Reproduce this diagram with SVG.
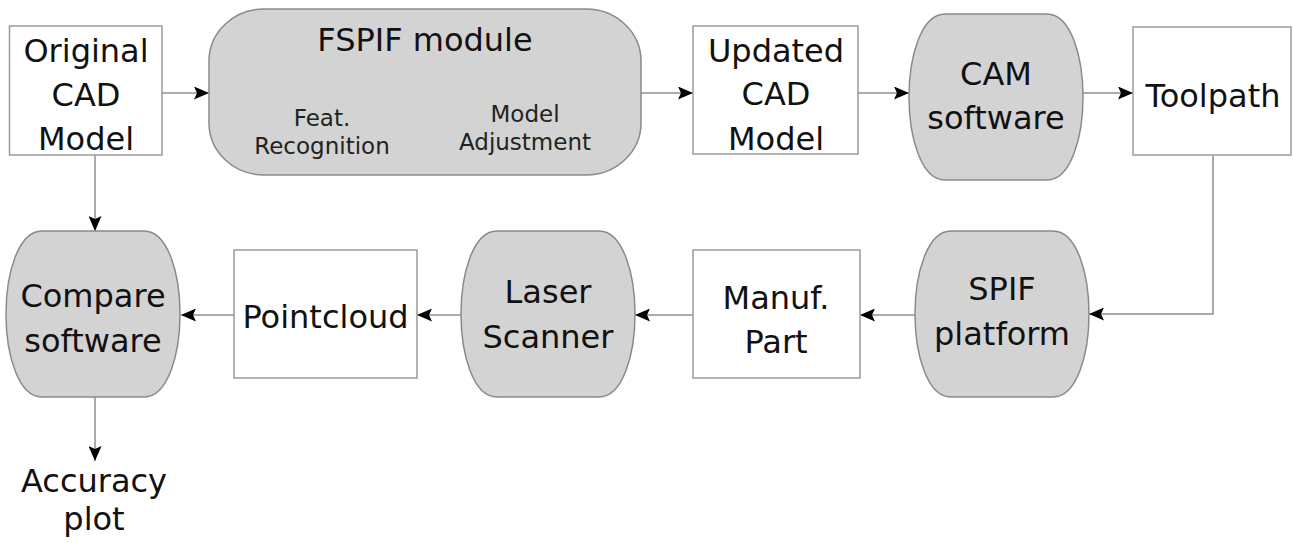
<svg xmlns="http://www.w3.org/2000/svg" width="1293" height="543" viewBox="0 0 1293 543">
<defs>
<style>
.box{fill:#ffffff;stroke:#9a9a9a;stroke-width:1.5}
.proc{fill:#d3d3d3;stroke:#8a8a8a;stroke-width:1.5}
.t{font-family:"DejaVu Sans","Liberation Sans",sans-serif;font-size:32px;fill:#111;text-anchor:middle}
.s{font-family:"DejaVu Sans","Liberation Sans",sans-serif;font-size:23px;fill:#222;text-anchor:middle}
.c{fill:none;stroke:#8f8f8f;stroke-width:1.5}
</style>
<marker id="ah" markerUnits="userSpaceOnUse" markerWidth="16" markerHeight="13" refX="15" refY="6.5" orient="auto">
<path d="M0,0 L15,6.5 L0,13 L3,6.5 Z" fill="#000"/>
</marker>
</defs>
<rect width="1293" height="543" fill="#ffffff"/>

<g id="connectors">
<line class="c" x1="162" y1="93" x2="209" y2="93" marker-end="url(#ah)"/>
<line class="c" x1="641" y1="93" x2="693" y2="93" marker-end="url(#ah)"/>
<line class="c" x1="858" y1="93" x2="909" y2="93" marker-end="url(#ah)"/>
<line class="c" x1="1083" y1="93" x2="1133" y2="93" marker-end="url(#ah)"/>
<polyline class="c" points="1213,155 1213,314 1089,314" marker-end="url(#ah)"/>
<line class="c" x1="915" y1="315" x2="860" y2="315" marker-end="url(#ah)"/>
<line class="c" x1="693" y1="315" x2="635" y2="315" marker-end="url(#ah)"/>
<line class="c" x1="461" y1="315" x2="417" y2="315" marker-end="url(#ah)"/>
<line class="c" x1="234" y1="315" x2="181" y2="315" marker-end="url(#ah)"/>
<line class="c" x1="95" y1="155" x2="95" y2="231" marker-end="url(#ah)"/>
<line class="c" x1="95" y1="397" x2="95" y2="461" marker-end="url(#ah)"/>
</g>

<g id="original-cad">
<rect class="box" x="9.5" y="26" width="152.5" height="129"/>
<text class="t" x="86" y="62">Original</text>
<text class="t" x="86" y="106">CAD</text>
<text class="t" x="86" y="150">Model</text>
</g>

<g id="fspif-module">
<rect class="proc" x="209" y="9" width="432" height="166" rx="55" ry="52"/>
<text class="t" x="425" y="51">FSPIF module</text>
<text class="s" x="322" y="126">Feat.</text>
<text class="s" x="322" y="154">Recognition</text>
<text class="s" x="525" y="122">Model</text>
<text class="s" x="525" y="150">Adjustment</text>
</g>

<g id="updated-cad">
<rect class="box" x="693" y="26" width="165" height="128"/>
<text class="t" x="776" y="62">Updated</text>
<text class="t" x="776" y="105">CAD</text>
<text class="t" x="776" y="150">Model</text>
</g>

<g id="cam-software">
<path class="proc" d="M945,14 H1047 C1071,14 1083,57 1083,97 C1083,137 1071,180 1047,180 H945 C921,180 909,137 909,97 C909,57 921,14 945,14 Z"/>
<text class="t" x="996" y="85">CAM</text>
<text class="t" x="996" y="129">software</text>
</g>

<g id="toolpath">
<rect class="box" x="1133" y="27" width="158" height="128"/>
<text class="t" x="1213" y="107">Toolpath</text>
</g>

<g id="spif-platform">
<path class="proc" d="M951,231 H1053 C1077,231 1089,274 1089,314 C1089,354 1077,397 1053,397 H951 C927,397 915,354 915,314 C915,274 927,231 951,231 Z"/>
<text class="t" x="1002" y="300">SPIF</text>
<text class="t" x="1002" y="345">platform</text>
</g>

<g id="manuf-part">
<rect class="box" x="693" y="250" width="167" height="128"/>
<text class="t" x="776" y="309">Manuf.</text>
<text class="t" x="776" y="353">Part</text>
</g>

<g id="laser-scanner">
<path class="proc" d="M497,231 H599 C623,231 635,274 635,314 C635,354 623,397 599,397 H497 C473,397 461,354 461,314 C461,274 473,231 497,231 Z"/>
<text class="t" x="548" y="303">Laser</text>
<text class="t" x="548" y="348">Scanner</text>
</g>

<g id="pointcloud">
<rect class="box" x="234" y="250" width="183" height="128"/>
<text class="t" x="325.5" y="328">Pointcloud</text>
</g>

<g id="compare-software">
<path class="proc" d="M42,231 H144 C168,231 180,274 180,314 C180,354 168,397 144,397 H42 C18,397 6,354 6,314 C6,274 18,231 42,231 Z"/>
<text class="t" x="93" y="307">Compare</text>
<text class="t" x="93" y="352">software</text>
</g>

<g id="accuracy-plot">
<text class="t" x="94" y="492">Accuracy</text>
<text class="t" x="94" y="530">plot</text>
</g>
</svg>
